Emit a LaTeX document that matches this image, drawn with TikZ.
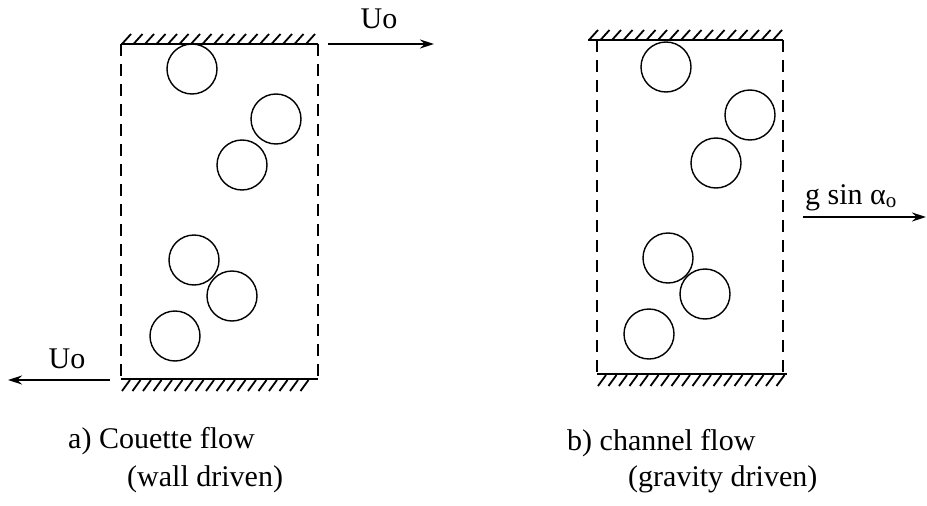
\documentclass[tikz,border=0pt]{standalone}
\usepackage{fontspec}
\setmainfont{Liberation Serif}
\usetikzlibrary{arrows.meta, positioning}

\begin{document}
\begin{tikzpicture}[x=1pt, y=-1pt, >=Stealth,
  wall/.style={line width=1.8pt},
  hatch/.style={line width=1.8pt},
  side/.style={line width=1.9pt, dash pattern=on 12pt off 8pt},
  grain/.style={draw, circle, line width=1.4pt, minimum size=50pt, inner sep=0pt},
  lbl/.style={font=\fontsize{30}{34}\selectfont, inner sep=0pt},
  flow/.style={-{Stealth[length=14pt, width=9pt]}, line width=1.4pt}]
  \useasboundingbox (0,0) rectangle (927,506);

  % a) Couette flow: box
  \coordinate (aTL) at (121,44);
  \coordinate (aTR) at (318,44);
  \coordinate (aBL) at (121,379);
  \coordinate (aBR) at (318,379);
  \draw[wall] (aTL) -- (aTR);
  \draw[wall] (aBL) -- (aBR);
  \draw[side] (aTL) -- (aBL);
  \draw[side] (aTR) -- (aBR);
  \foreach \x in {122,133.5,...,306} \draw[hatch] (\x,44) -- ++(9,-10);
  \foreach \x in {122,132.5,...,310} \draw[hatch] (\x,391) -- ++(8,-11);
  % a) particles
  \node[grain] (a1) at (192,69) {};
  \node[grain] (a2) at (276,119) {};
  \node[grain] (a3) at (242,165) {};
  \node[grain] (a4) at (194,260) {};
  \node[grain] (a5) at (232,296) {};
  \node[grain] (a6) at (175,336) {};
  % a) wall velocities
  \coordinate (aTopS) at (328,44);
  \coordinate (aTopE) at (434,44);
  \coordinate (aBotS) at (110,380);
  \coordinate (aBotE) at (8,380);
  \draw[flow] (aTopS) -- (aTopE);
  \draw[flow] (aBotS) -- (aBotE);
  \node[lbl, anchor=base] (uTop) at (379,28) {Uo};
  \node[lbl, anchor=base] (uBot) at (67,368) {Uo};
  % a) caption
  \node[lbl, anchor=base west] (capA) at (68,448) {a) Couette flow};
  \node[lbl, anchor=base west] (capA2) at (127,486) {(wall driven)};

  % b) channel flow: box
  \coordinate (bTL) at (588,40);
  \coordinate (bTR) at (783,40);
  \coordinate (bSL) at (597,40);
  \coordinate (bBL) at (597,374);
  \coordinate (bBR) at (787,374);
  \coordinate (bSR) at (783,374);
  \draw[wall] (bTL) -- (bTR);
  \draw[wall] (bBL) -- (bBR);
  \draw[side] (bSL) -- (bBL);
  \draw[side] (bTR) -- (bSR);
  \foreach \x in {589,600.5,...,775} \draw[hatch] (\x,40) -- ++(9,-10);
  \foreach \x in {598,608.5,...,780} \draw[hatch] (\x,386) -- ++(8,-11);
  % b) particles
  \node[grain] (b1) at (666,67) {};
  \node[grain] (b2) at (750,115) {};
  \node[grain] (b3) at (716,163) {};
  \node[grain] (b4) at (668,258) {};
  \node[grain] (b5) at (705,294) {};
  \node[grain] (b6) at (649,334) {};
  % b) body force
  \coordinate (gS) at (803,217);
  \coordinate (gE) at (926,217);
  \draw[flow] (gS) -- (gE);
  \node[lbl, anchor=base west] (gLbl) at (805,204) {g sin α\textsubscript{o}};
  % b) caption
  \node[lbl, anchor=base west] (capB) at (567,450) {b) channel flow};
  \node[lbl, anchor=base west] (capB2) at (628,486) {(gravity driven)};
\end{tikzpicture}
\end{document}
